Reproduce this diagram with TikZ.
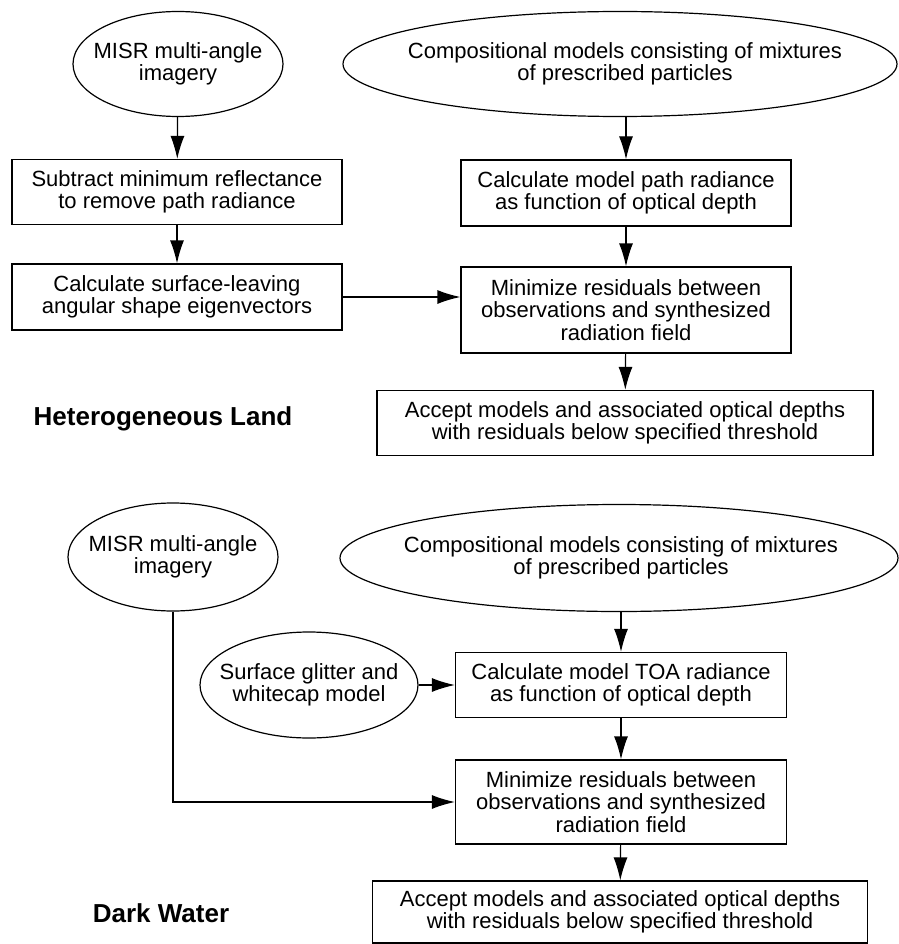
\documentclass[tikz,border=0pt]{standalone}
\usepackage{fontspec}
\setmainfont{Liberation Sans}
\usetikzlibrary{positioning,arrows.meta,shapes.geometric}

\begin{document}
\begin{tikzpicture}
    [x=1pt,y=-1pt,line width=1.2pt,
     >={Latex[length=23pt,width=14pt]},
     every node/.style={font=\fontsize{22}{22.5}\selectfont,align=center},
     src/.style={ellipse,draw,inner sep=0pt},
     proc/.style={rectangle,draw,inner sep=0pt},
     title/.style={font=\fontsize{26}{28}\selectfont\bfseries}]
    \useasboundingbox (0,0) rectangle (898,944);

    % heterogeneous land
    \node[src,minimum width=210pt,minimum height=105pt,
      label={center:MISR multi-angle\\imagery}] (misrl) at (178,64) {};
    \node[src,minimum width=554pt,minimum height=105pt,
      label={[xshift=5pt]center:Compositional models consisting of mixtures\\of prescribed particles}] (compl) at (620,64) {};

    \node[proc,minimum width=330pt,minimum height=65pt] (subl) at (177,192)
      {Subtract minimum reflectance\\to remove path radiance}
      edge [<-] (misrl);
    \node[proc,minimum width=330pt,minimum height=66pt] (eigl) at (177,297)
      {Calculate surface-leaving\\angular shape eigenvectors}
      edge [<-] (subl);
    \node[proc,minimum width=330pt,minimum height=66pt] (pathl) at (626,193)
      {Calculate model path radiance\\as function of optical depth}
      edge [<-] (pathl |- compl.south);
    \node[proc,minimum width=330pt,minimum height=86pt] (minl) at (626,310)
      {Minimize residuals between\\observations and synthesized\\radiation field}
      edge [<-] (pathl);
    \draw[->] (eigl) -- (eigl -| minl.west);
    \node[proc,minimum width=496pt,minimum height=65pt] (accl) at (625,423)
      {Accept models and associated optical depths\\with residuals below specified threshold}
      edge [<-] (minl);
    \node[title] (land) at (163,419) {Heterogeneous Land};

    % dark water
    \node[src,minimum width=210pt,minimum height=108pt,
      label={center:MISR multi-angle\\imagery}] (misrw) at (173,557) {};
    \node[src,minimum width=558pt,minimum height=107pt,
      label={[xshift=2pt]center:Compositional models consisting of mixtures\\of prescribed particles}] (compw) at (619,558) {};
    \node[src,minimum width=218pt,minimum height=106pt,
      label={center:Surface glitter and\\whitecap model}] (glint) at (309,685) {};

    \node[proc,minimum width=331pt,minimum height=65pt] (toaw) at (621,685)
      {Calculate model TOA radiance\\as function of optical depth}
      edge [<-] (toaw |- compw.south)
      edge [<-] (glint);
    \node[proc,minimum width=331pt,minimum height=84pt] (minw) at (621,802)
      {Minimize residuals between\\observations and synthesized\\radiation field}
      edge [<-] (toaw);
    \draw[->] (misrw) |- (minw);
    \node[proc,minimum width=495pt,minimum height=62pt] (accw) at (620,912)
      {Accept models and associated optical depths\\with residuals below specified threshold}
      edge [<-] (minw);
    \node[title] (water) at (161,913) {Dark Water};

  \end{tikzpicture}
\end{document}
